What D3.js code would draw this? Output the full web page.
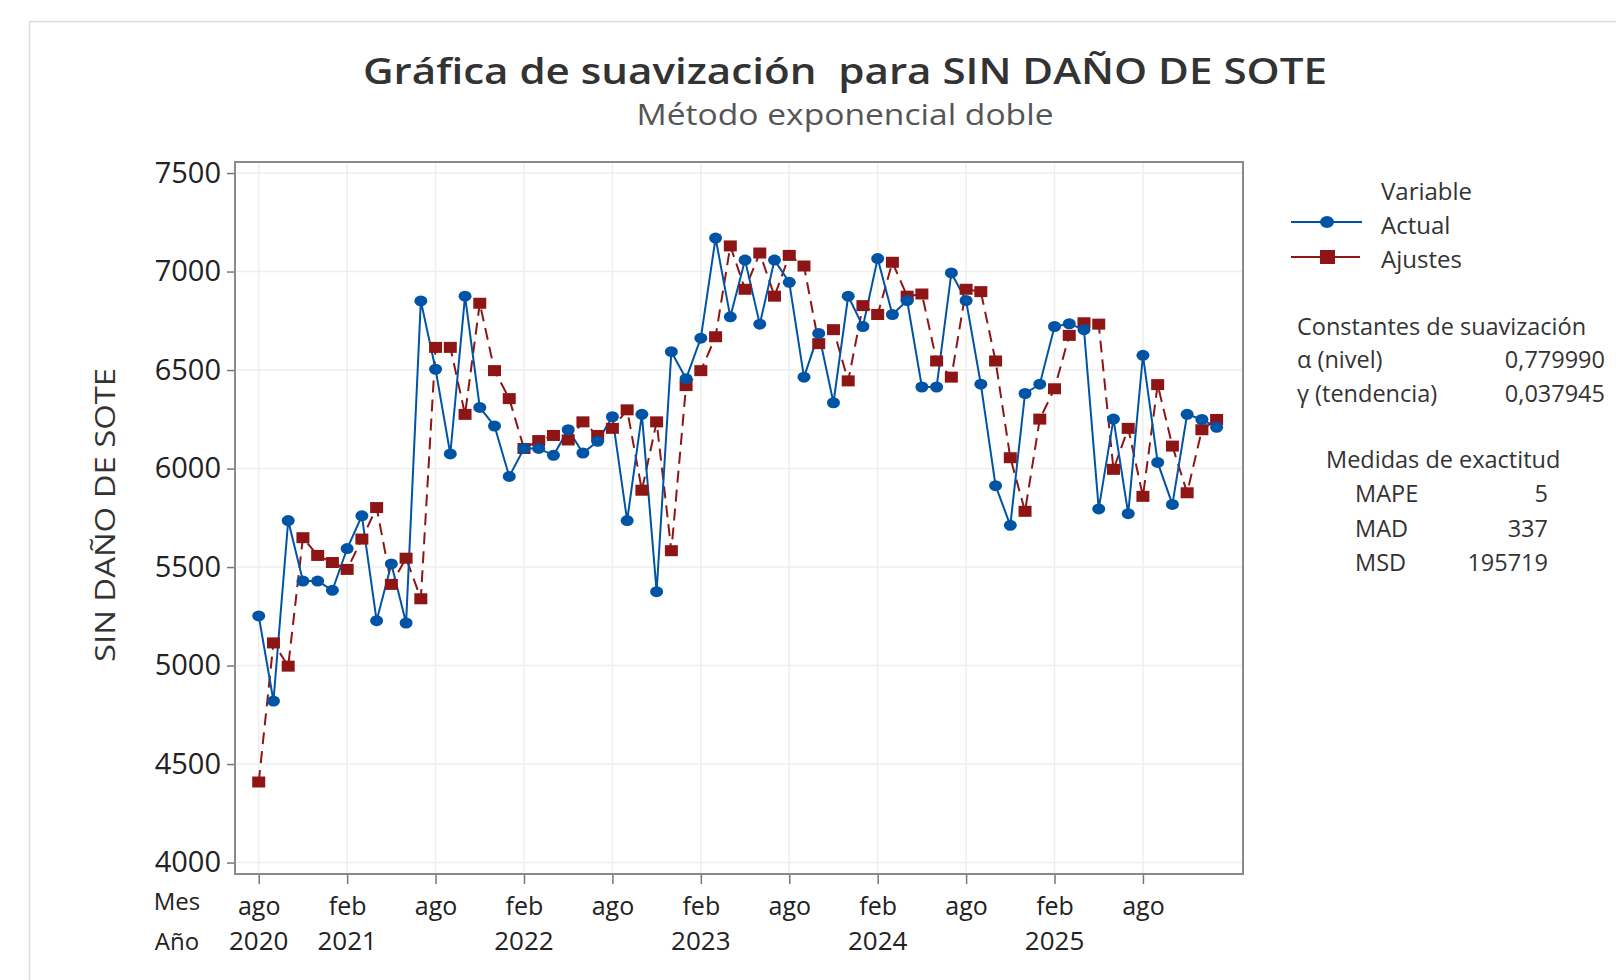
<!DOCTYPE html>
<html>
<head>
<meta charset="utf-8">
<script src="https://cdn.jsdelivr.net/npm/d3@7"></script>
<style>
  body { margin: 0; background: #fff; }
  svg { display: block; font-family: "Open Sans", "Noto Sans", sans-serif; }
</style>
</head>
<body>
<div id="chart"></div>
<script>
// data (monthly, ago 2020 .. ene 2026)
var actual = [
  5252, 4820, 5736, 5429, 5429,
  5382, 5594, 5760, 5228, 5516, 5216, 6851, 6504, 6074, 6875, 6310, 6216,
  5960, 6102, 6102, 6067, 6197, 6079, 6138, 6263, 5736, 6275, 5375, 6593,
  6456, 6662, 7170, 6770, 7058, 6733, 7058, 6945, 6464, 6686, 6334, 6875,
  6721, 7066, 6782, 6853, 6414, 6414, 6993, 6853, 6428, 5913, 5712, 6381,
  6428, 6721, 6735, 6705, 5795, 6251, 5771, 6575, 6031, 5818, 6275, 6249,
  6209
];
var ajustes = [
  4409, 5115, 4997, 5649, 5559,
  5523, 5488, 5642, 5802, 5412, 5545, 5339, 6615, 6615, 6275, 6839, 6497,
  6355, 6102, 6142, 6168, 6145, 6237, 6168, 6204, 6298, 5890, 6237, 5583,
  6421, 6497, 6669, 7130, 6910, 7094, 6875, 7082, 7028, 6634, 6705, 6445,
  6827, 6782, 7047, 6875, 6886, 6546, 6464, 6910, 6898, 6546, 6055, 5783,
  6251, 6405, 6676, 6740, 6733, 5996, 6204, 5859, 6426, 6114, 5877, 6197,
  6249
];
var tickIdx = [0, 6, 12, 18, 24, 30, 36, 42, 48, 54, 60];
var tickMes = ["ago", "feb", "ago", "feb", "ago", "feb", "ago", "feb", "ago", "feb", "ago"];
var tickAno = ["2020", "2021", "", "2022", "", "2023", "", "2024", "", "2025", ""];
var yTicks = [4000, 4500, 5000, 5500, 6000, 6500, 7000, 7500];
var constLabels = ["\u03b1 (nivel)", "\u03b3 (tendencia)"];
var constValues = ["0,779990", "0,037945"];
var medLabels = ["MAPE", "MAD", "MSD"];
var medValues = ["5", "337", "195719"];

var W = 1616, H = 980;
var blue = "#0054a6", red = "#8e1515", txt = "#333";
var frame = { left: 235, top: 162, right: 1243, bottom: 874 };

var svg = d3.select("#chart").append("svg")
  .attr("width", W).attr("height", H);

// panel border
svg.append("rect")
  .attr("x", 29.5).attr("y", 21.5).attr("width", 1700).attr("height", 1100)
  .attr("fill", "none").attr("stroke", "#dcdcdc").attr("stroke-width", 1.5);

var x = d3.scaleLinear().domain([-1.61, 66.79]).range([frame.left, frame.right]);
var y = d3.scaleLinear().domain([3942, 7556]).range([frame.bottom, frame.top]);

// gridlines
svg.append("g").selectAll("line").data(yTicks).enter().append("line")
  .attr("x1", frame.left).attr("x2", frame.right)
  .attr("y1", d => y(d)).attr("y2", d => y(d))
  .attr("stroke", "#eeeeee").attr("stroke-width", 1.5);
svg.append("g").selectAll("line").data(tickIdx).enter().append("line")
  .attr("x1", d => x(d)).attr("x2", d => x(d))
  .attr("y1", frame.top).attr("y2", frame.bottom)
  .attr("stroke", "#eeeeee").attr("stroke-width", 1.5);

// y axis
var yAxis = svg.append("g")
  .attr("transform", `translate(${frame.left},0)`)
  .call(d3.axisLeft(y).tickValues(yTicks).tickSize(8).tickPadding(6).tickFormat(d3.format("d")));
yAxis.select(".domain").remove();
yAxis.selectAll("line").attr("stroke", "#777").attr("stroke-width", 1.5);
yAxis.selectAll("text").attr("font-size", "29px").attr("fill", "#222").attr("font-family", "Open Sans");

// x axis (month row)
var xAxis = svg.append("g")
  .attr("transform", `translate(0,${frame.bottom})`)
  .call(d3.axisBottom(x).tickValues(tickIdx).tickSize(10).tickPadding(13)
    .tickFormat((d, i) => tickMes[i]));
xAxis.select(".domain").remove();
xAxis.selectAll("line").attr("stroke", "#777").attr("stroke-width", 1.5);
xAxis.selectAll("text").attr("font-size", "25px").attr("fill", "#222").attr("font-family", "Open Sans");

// year row
svg.append("g").selectAll("text").data(tickIdx).enter().append("text")
  .attr("x", d => x(d)).attr("y", 950)
  .attr("text-anchor", "middle").attr("font-size", "26px").attr("fill", "#222")
  .text((d, i) => tickAno[i]);
svg.append("text").attr("x", 177).attr("y", 910).attr("text-anchor", "middle")
  .attr("font-size", "24px").attr("fill", "#222").text("Mes");
svg.append("text").attr("x", 177).attr("y", 950).attr("text-anchor", "middle")
  .attr("font-size", "24px").attr("fill", "#222").text("A\u00f1o");

// frame
svg.append("rect")
  .attr("x", frame.left).attr("y", frame.top)
  .attr("width", frame.right - frame.left).attr("height", frame.bottom - frame.top)
  .attr("fill", "none").attr("stroke", "#8a8a8a").attr("stroke-width", 2);

// lines
var line = d3.line().x((d, i) => x(i)).y(d => y(d));
svg.append("path").datum(ajustes)
  .attr("d", line).attr("fill", "none")
  .attr("stroke", red).attr("stroke-width", 2).attr("stroke-dasharray", "12,7");
svg.append("path").datum(actual)
  .attr("d", line).attr("fill", "none")
  .attr("stroke", blue).attr("stroke-width", 2);

// markers
svg.append("g").selectAll("rect").data(ajustes).enter().append("rect")
  .attr("x", (d, i) => x(i) - 6.5).attr("y", d => y(d) - 5.5)
  .attr("width", 13).attr("height", 11).attr("fill", red);
svg.append("g").selectAll("ellipse").data(actual).enter().append("ellipse")
  .attr("cx", (d, i) => x(i)).attr("cy", d => y(d))
  .attr("rx", 6.5).attr("ry", 5.5).attr("fill", blue);

// titles
svg.append("text").attr("x", 845).attr("y", 84).attr("text-anchor", "middle")
  .attr("font-size", "36px").attr("font-weight", 600).attr("fill", "#333")
  .style("white-space", "pre")
  .attr("textLength", 964).attr("lengthAdjust", "spacingAndGlyphs")
  .text("Gr\u00e1fica de suavizaci\u00f3n  para SIN DA\u00d1O DE SOTE");
svg.append("text").attr("x", 845).attr("y", 125).attr("text-anchor", "middle")
  .attr("font-size", "29px").attr("fill", "#555")
  .attr("textLength", 417).attr("lengthAdjust", "spacingAndGlyphs")
  .text("M\u00e9todo exponencial doble");

// y label
svg.append("text")
  .attr("transform", "translate(115,515) rotate(-90)")
  .attr("text-anchor", "middle").attr("font-size", "28px").attr("fill", txt)
  .attr("textLength", 294).attr("lengthAdjust", "spacingAndGlyphs")
  .text("SIN DA\u00d1O DE SOTE");

// legend
var lg = svg.append("g").attr("font-size", "24px").attr("fill", txt);
lg.append("text").attr("x", 1381).attr("y", 200).text("Variable");
lg.append("line").attr("x1", 1291).attr("x2", 1362).attr("y1", 222).attr("y2", 222)
  .attr("stroke", blue).attr("stroke-width", 2);
lg.append("ellipse").attr("cx", 1327).attr("cy", 222).attr("rx", 7).attr("ry", 6).attr("fill", blue);
lg.append("text").attr("x", 1381).attr("y", 234).text("Actual");
lg.append("line").attr("x1", 1291).attr("x2", 1360).attr("y1", 257).attr("y2", 257)
  .attr("stroke", red).attr("stroke-width", 2);
lg.append("rect").attr("x", 1320).attr("y", 250).attr("width", 15).attr("height", 14).attr("fill", red);
lg.append("text").attr("x", 1381).attr("y", 268).text("Ajustes");

// smoothing constants
var st = svg.append("g").attr("font-size", "23.5px").attr("fill", txt);
st.append("text").attr("x", 1297).attr("y", 335).text("Constantes de suavizaci\u00f3n");
constLabels.forEach(function(l, i) {
  st.append("text").attr("x", 1297).attr("y", 368 + i * 34).text(l);
  st.append("text").attr("x", 1605).attr("y", 368 + i * 34).attr("text-anchor", "end").text(constValues[i]);
});

// accuracy measures
st.append("text").attr("x", 1326).attr("y", 468).text("Medidas de exactitud");
medLabels.forEach(function(l, i) {
  st.append("text").attr("x", 1355).attr("y", 502 + i * 34.5).text(l);
  st.append("text").attr("x", 1548).attr("y", 502 + i * 34.5).attr("text-anchor", "end").text(medValues[i]);
});
</script>
</body>
</html>
